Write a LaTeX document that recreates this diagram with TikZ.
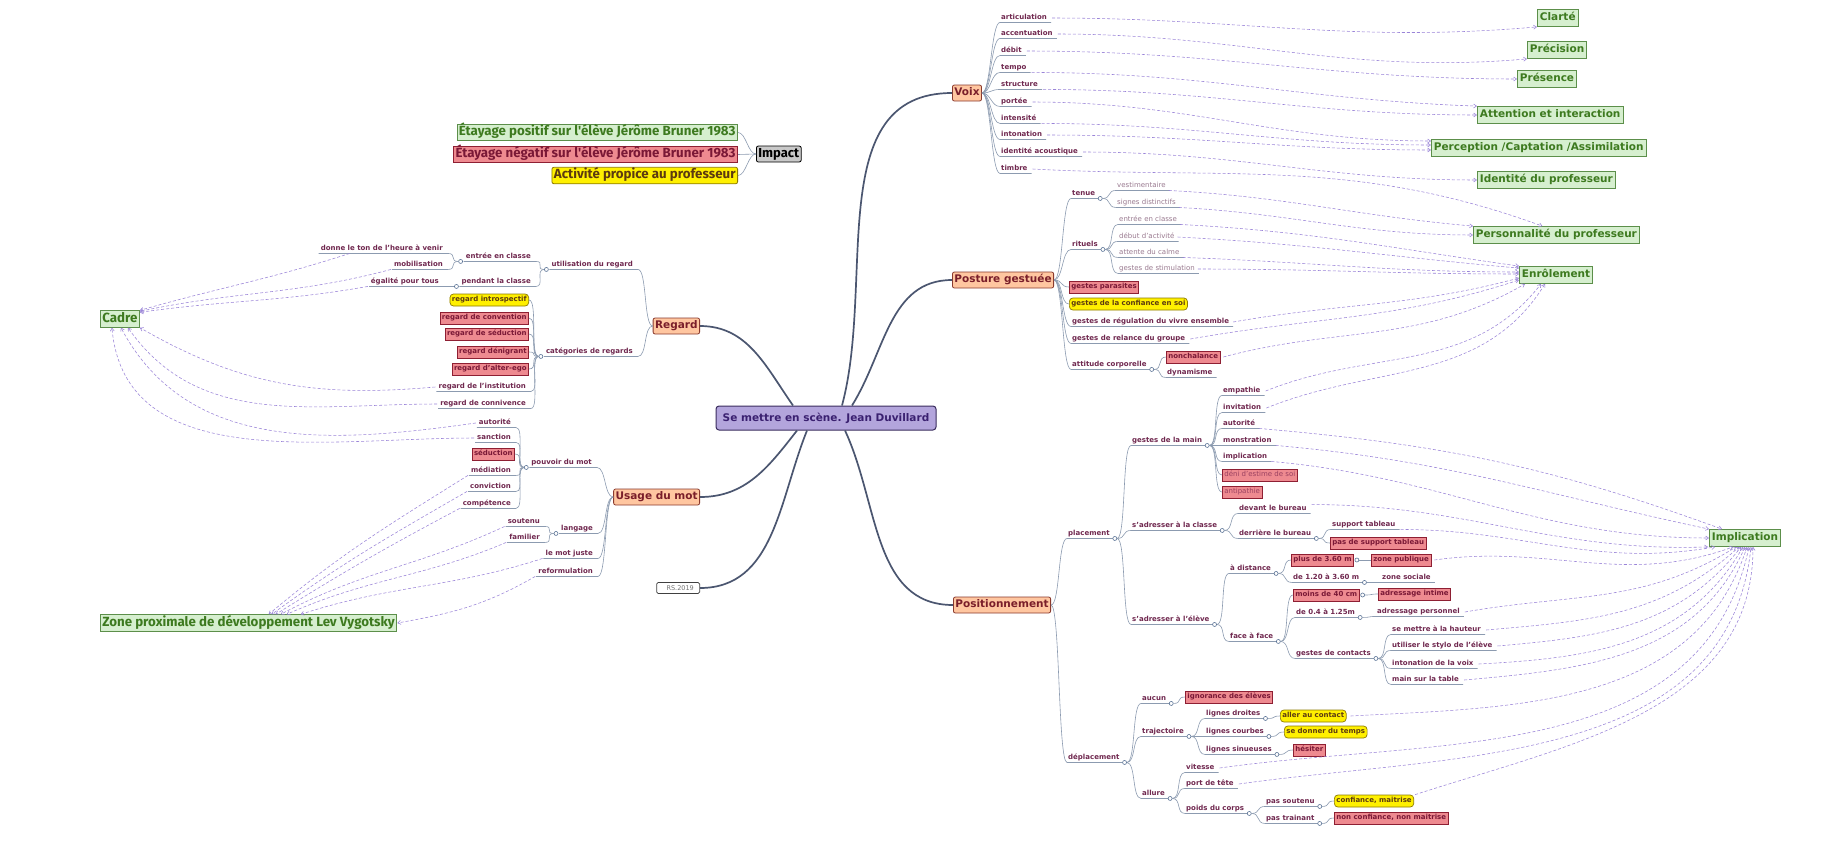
\documentclass[tikz,border=0pt]{standalone}
\usepackage{fontspec}
\setmainfont{DejaVu Sans}
\newfontfamily\ptfont{Fira Sans}
\usetikzlibrary{arrows.meta}
\definecolor{txt}{HTML}{70284F}
\definecolor{txtl}{HTML}{9A7A90}
\definecolor{treec}{HTML}{8C9BB0}
\definecolor{juncc}{HTML}{5A7396}
\definecolor{trunkc}{HTML}{4B5670}
\definecolor{arrc}{HTML}{9A84D8}
\definecolor{grnf}{HTML}{D6EFCF}
\definecolor{grnd}{HTML}{5C8F4A}
\definecolor{grnt}{HTML}{3D7A1F}
\definecolor{redf}{HTML}{EE8A90}
\definecolor{redd}{HTML}{8E1F33}
\definecolor{redt}{HTML}{7A1836}
\definecolor{redtl}{HTML}{9A4060}
\definecolor{yelf}{HTML}{FFF000}
\definecolor{yeld}{HTML}{8C7A00}
\definecolor{yelt}{HTML}{5C3A10}
\definecolor{mainf}{HTML}{FFC6A0}
\definecolor{maind}{HTML}{8A3A2E}
\definecolor{maint}{HTML}{7A1E2A}
\definecolor{cenf}{HTML}{B3A5DC}
\definecolor{cend}{HTML}{3B2D5E}
\definecolor{cent}{HTML}{3A2070}
\definecolor{impf}{HTML}{C9C9C9}
\tikzset{
  lb/.style={anchor=west, inner xsep=1pt, inner ysep=0.8pt, text height=5.3pt, text depth=1.6pt, font=\fontsize{7}{8}\selectfont\bfseries, text=txt},
  lt/.style={lb, font=\fontsize{7}{8}\selectfont, text=txtl},
  lbL/.style={lb, anchor=east},
  redb/.style={anchor=west, draw=redd, fill=redf, line width=0.7pt, inner xsep=2pt, inner ysep=0pt, minimum height=12pt, text height=5.3pt, text depth=1.6pt, font=\fontsize{7}{8}\selectfont\bfseries, text=redt},
  redl/.style={redb, font=\fontsize{7}{8}\selectfont, text=redtl},
  yelb/.style={redb, draw=yeld, fill=yelf, text=yelt, rounded corners=3.5pt},
  redbL/.style={redb, anchor=east},
  yelbL/.style={yelb, anchor=east},
  mainb/.style={draw=maind, fill=mainf, line width=0.8pt, rounded corners=2pt, inner xsep=2pt, inner ysep=0pt, minimum height=16pt, text height=7.6pt, text depth=2.2pt, font=\fontsize{10.5}{12}\selectfont\bfseries, text=maint},
  grn/.style={anchor=west, draw=grnd, fill=grnf, line width=0.8pt, inner xsep=2.5pt, inner ysep=0pt, minimum height=17pt, text height=7.6pt, text depth=2.2pt, font=\fontsize{10.5}{12}\selectfont\bfseries, text=grnt},
  grnP/.style={grn, font=\ptfont\fontsize{13.3}{15}\selectfont\bfseries, text height=9pt, text depth=2.6pt, minimum height=16.5pt, inner xsep=2pt},
  redP/.style={grnP, draw=redd, fill=redf, text=redt},
  yelP/.style={grnP, draw=yeld, fill=yelf, text=yelt, rounded corners=2pt},
  impb/.style={anchor=west, draw=black, fill=impf, line width=0.8pt, rounded corners=2pt, inner xsep=2pt, inner ysep=0pt, minimum height=16pt, text height=9pt, text depth=2.6pt, font=\ptfont\fontsize{13}{15}\selectfont\bfseries, text=black},
  rsb/.style={draw=black!75, fill=white, rounded corners=1.5pt, line width=0.7pt, inner sep=0pt, minimum width=43pt, minimum height=11pt, font=\fontsize{6.5}{7}\selectfont, text=black!55},
  cnode/.style={draw=cend, fill=cenf, rounded corners=3pt, line width=1pt, minimum width=220pt, minimum height=24pt, inner sep=0pt, font=\fontsize{10.5}{12}\selectfont\bfseries, text=cent},
  tree/.style={draw=treec, line width=0.6pt},
  trunk/.style={draw=trunkc, line width=1.7pt},
  arr/.style={draw=arrc, densely dashed, line width=0.55pt, -{Straight Barb[length=3pt,width=4pt]}},
  junc/.style={circle, draw=juncc, fill=white, inner sep=0pt, minimum size=4pt, line width=0.6pt},
}
\newcommand{\kidR}[5]{\node[#3] (#1) at (#4) {#5};
  \draw[tree] (#2) to[out=0,in=180,distance=9pt] (#1.south west) -- ([xshift=3pt]#1.south east);}
\newcommand{\boxR}[5]{\node[#3] (#1) at (#4) {#5};
  \draw[tree] (#2) to[out=0,in=180,distance=9pt] (#1.west);}
\newcommand{\kidL}[5]{\node[#3] (#1) at (#4) {#5};
  \draw[tree] (#2) to[out=180,in=0,distance=9pt] ([xshift=4pt]#1.south east) -- ([xshift=-1pt]#1.south west);}
\newcommand{\boxL}[5]{\node[#3] (#1) at (#4) {#5};
  \draw[tree] (#2) to[out=180,in=0,distance=9pt] (#1.east);}
\begin{document}
\begin{tikzpicture}[x=1pt,y=-1pt]
\useasboundingbox (0,0) rectangle (1822,841);
\fill[white] (0,0) rectangle (1822,841);

% centre and main branches
\node[cnode] (c) at (826,418) {Se mettre en scène. Jean Duvillard};
\node[mainb, anchor=west] (voix) at (952,93) {Voix};
\node[mainb, anchor=west] (posture) at (952,280) {Posture gestuée};
\node[mainb, anchor=west] (posit) at (953,605) {Positionnement};
\node[mainb, anchor=east] (regard) at (700,326) {Regard};
\node[mainb, anchor=east] (usage) at (700,497) {Usage du mot};
\node[rsb, anchor=east] (rs) at (700,588) {\ \ RS.2019};
\draw[trunk] ([xshift=16pt]c.north) to[out=75,in=180] (voix.west);
\draw[trunk] ([xshift=26pt]c.north) to[out=58,in=180] (posture.west);
\draw[trunk] ([xshift=19pt]c.south) to[out=-65,in=180] (posit.west);
\draw[trunk] ([xshift=-33pt]c.north) to[out=125,in=0] (regard.east);
\draw[trunk] ([xshift=-29pt]c.south) to[out=-128,in=0] (usage.east);
\draw[trunk] ([xshift=-19pt]c.south) to[out=-112,in=0] (rs.east);

% green targets
\node[grn] (clarte) at (1537,18) {Clarté};
\node[grn] (precision) at (1527,50) {Précision};
\node[grn] (presence) at (1517,79) {Présence};
\node[grn] (attention) at (1477,115) {Attention et interaction};
\node[grn] (perception) at (1431,148) {Perception /Captation /Assimilation};
\node[grn] (idprof) at (1477,180) {Identité du professeur};
\node[grn] (perso) at (1473,235) {Personnalité du professeur};
\node[grn] (enrol) at (1519,275) {Enrôlement};
\node[grn] (implic) at (1709,538) {Implication};
\node[grnP] (cadre) at (100,319) {Cadre};
\node[grnP] (zone) at (100,623) {Zone proximale de développement Lev Vygotsky};

% Impact
\node[impb] (impact) at (756,154) {Impact};
\node[grnP, anchor=east] (etpos) at (738,132.5) {Étayage positif sur l'élève Jérôme Bruner 1983};
\node[redP, anchor=east] (etneg) at (738,154.5) {Étayage négatif sur l'élève Jérôme Bruner 1983};
\node[yelP, anchor=east] (activ) at (738,175.5) {Activité propice au professeur};
\draw[tree] (etpos.east) to[out=0,in=180,distance=8pt] (impact.west);
\draw[tree] (etneg.east) -- (impact.west);
\draw[tree] (activ.east) to[out=0,in=180,distance=8pt] (impact.west);

% Voix
\kidR{articulation}{voix.east}{lb}{1000,18}{articulation}
\kidR{accentuation}{voix.east}{lb}{1000,34}{accentuation}
\kidR{debit}{voix.east}{lb}{1000,51}{débit}
\kidR{tempo}{voix.east}{lb}{1000,68}{tempo}
\kidR{structure}{voix.east}{lb}{1000,85}{structure}
\kidR{portee}{voix.east}{lb}{1000,102}{portée}
\kidR{intensite}{voix.east}{lb}{1000,119}{intensité}
\kidR{intonation}{voix.east}{lb}{1000,135}{intonation}
\kidR{idacou}{voix.east}{lb}{1000,152}{identité acoustique}
\kidR{timbre}{voix.east}{lb}{1000,169}{timbre}

% Posture gestuée
\kidR{tenue}{posture.east}{lb}{1071,194}{tenue}
\node[junc] (jtenue) at ([xshift=4pt]tenue.south east) {};
\kidR{vest}{jtenue.east}{lt}{1116,186}{vestimentaire}
\kidR{signes}{jtenue.east}{lt}{1116,203}{signes distinctifs}
\kidR{rituels}{posture.east}{lb}{1071,245}{rituels}
\node[junc] (jrit) at ([xshift=4pt]rituels.south east) {};
\kidR{entree}{jrit.east}{lt}{1118,220}{entrée en classe}
\kidR{debut}{jrit.east}{lt}{1118,237}{début d'activité}
\kidR{attente}{jrit.east}{lt}{1118,253}{attente du calme}
\kidR{stim}{jrit.east}{lt}{1118,269}{gestes de stimulation}
\boxR{parasites}{posture.east}{redb}{1069,287}{gestes parasites}
\boxR{confiance}{posture.east}{yelb}{1069,304}{gestes de la confiance en soi}
\kidR{regul}{posture.east}{lb}{1071,322}{gestes de régulation du vivre ensemble}
\kidR{relance}{posture.east}{lb}{1071,339}{gestes de relance du groupe}
\kidR{attitude}{posture.east}{lb}{1071,365}{attitude corporelle}
\node[junc] (jatt) at ([xshift=4pt]attitude.south east) {};
\boxR{nonch}{jatt.east}{redb}{1166,357}{nonchalance}
\kidR{dyna}{jatt.east}{lb}{1166,373}{dynamisme}

% Positionnement
\kidR{placement}{posit.east}{lb}{1067,534}{placement}
\node[junc] (jplac) at ([xshift=4pt]placement.south east) {};
\kidR{gmain}{jplac.east}{lb}{1131,441}{gestes de la main}
\node[junc] (jgmain) at ([xshift=4pt]gmain.south east) {};
\kidR{empathie}{jgmain.east}{lb}{1222,391}{empathie}
\kidR{invitation}{jgmain.east}{lb}{1222,408}{invitation}
\kidR{autorite}{jgmain.east}{lb}{1222,424}{autorité}
\kidR{monstration}{jgmain.east}{lb}{1222,441}{monstration}
\kidR{implication}{jgmain.east}{lb}{1222,457}{implication}
\boxR{deni}{jgmain.east}{redl}{1222,475}{déni d'estime de soi}
\boxR{antip}{jgmain.east}{redl}{1222,492}{antipathie}
\kidR{sclasse}{jplac.east}{lb}{1131,526}{s'adresser à la classe}
\node[junc] (jscl) at ([xshift=4pt]sclasse.south east) {};
\kidR{devant}{jscl.east}{lb}{1238,509}{devant le bureau}
\kidR{derriere}{jscl.east}{lb}{1238,534}{derrière le bureau}
\node[junc] (jder) at ([xshift=4pt]derriere.south east) {};
\kidR{support}{jder.east}{lb}{1331,525}{support tableau}
\boxR{pasupport}{jder.east}{redb}{1330,543}{pas de support tableau}
\kidR{seleve}{jplac.east}{lb}{1131,620}{s'adresser à l'élève}
\node[junc] (jsel) at ([xshift=4pt]seleve.south east) {};
\kidR{adist}{jsel.east}{lb}{1229,569}{à distance}
\node[junc] (jadist) at ([xshift=4pt]adist.south east) {};
\boxR{plus}{jadist.east}{redb}{1291,560}{plus de 3.60 m}
\node[junc] (jplus) at ([xshift=3pt]plus.east) {};
\boxR{zpub}{jplus.east}{redb}{1371,560}{zone publique}
\kidR{deun}{jadist.east}{lb}{1292,578}{de 1.20 à 3.60 m}
\node[junc] (jdeun) at ([xshift=4pt]deun.south east) {};
\kidR{zsoc}{jdeun.east}{lb}{1381,578}{zone sociale}
\kidR{face}{jsel.east}{lb}{1229,637}{face à face}
\node[junc] (jface) at ([xshift=4pt]face.south east) {};
\boxR{moins}{jface.east}{redb}{1293,595}{moins de 40 cm}
\node[junc] (jmoins) at ([xshift=3pt]moins.east) {};
\boxR{intime}{jmoins.east}{redb}{1378,594}{adressage intime}
\kidR{dezero}{jface.east}{lb}{1295,613}{de 0.4 à 1.25m}
\node[junc] (jdezero) at ([xshift=4pt]dezero.south east) {};
\kidR{adperso}{jdezero.east}{lb}{1376,612}{adressage personnel}
\kidR{gcont}{jface.east}{lb}{1295,654}{gestes de contacts}
\node[junc] (jgc) at ([xshift=4pt]gcont.south east) {};
\kidR{hauteur}{jgc.east}{lb}{1391,630}{se mettre à la hauteur}
\kidR{stylo}{jgc.east}{lb}{1391,646}{utiliser le stylo de l'élève}
\kidR{intvoix}{jgc.east}{lb}{1391,664}{intonation de la voix}
\kidR{table}{jgc.east}{lb}{1391,680}{main sur la table}
\kidR{deplac}{posit.east}{lb}{1067,758}{déplacement}
\node[junc] (jdep) at ([xshift=4pt]deplac.south east) {};
\kidR{aucun}{jdep.east}{lb}{1141,699}{aucun}
\node[junc] (jauc) at ([xshift=4pt]aucun.south east) {};
\boxR{ignor}{jauc.east}{redb}{1185,697}{ignorance des élèves}
\kidR{traj}{jdep.east}{lb}{1141,732}{trajectoire}
\node[junc] (jtraj) at ([xshift=4pt]traj.south east) {};
\kidR{ldroites}{jtraj.east}{lb}{1205,714}{lignes droites}
\node[junc] (jld) at ([xshift=4pt]ldroites.south east) {};
\boxR{contact}{jld.east}{yelb}{1280,716}{aller au contact}
\kidR{lcourbes}{jtraj.east}{lb}{1205,732}{lignes courbes}
\node[junc] (jlc) at ([xshift=4pt]lcourbes.south east) {};
\boxR{temps}{jlc.east}{yelb}{1284,732}{se donner du temps}
\kidR{lsin}{jtraj.east}{lb}{1205,750}{lignes sinueuses}
\node[junc] (jls) at ([xshift=4pt]lsin.south east) {};
\boxR{hesiter}{jls.east}{redb}{1293,750}{hésiter}
\kidR{allure}{jdep.east}{lb}{1141,794}{allure}
\node[junc] (jall) at ([xshift=4pt]allure.south east) {};
\kidR{vitesse}{jall.east}{lb}{1185,768}{vitesse}
\kidR{port}{jall.east}{lb}{1185,784}{port de tête}
\kidR{poids}{jall.east}{lb}{1185,809}{poids du corps}
\node[junc] (jpoids) at ([xshift=4pt]poids.south east) {};
\kidR{psout}{jpoids.east}{lb}{1265,802}{pas soutenu}
\node[junc] (jps) at ([xshift=4pt]psout.south east) {};
\boxR{confm}{jps.east}{yelb}{1334,801}{confiance, maitrise}
\kidR{ptrain}{jpoids.east}{lb}{1265,819}{pas trainant}
\node[junc] (jpt) at ([xshift=4pt]ptrain.south east) {};
\boxR{nonconf}{jpt.east}{redb}{1334,818}{non confiance, non maitrise}

% Regard
\kidL{utilis}{regard.west}{lbL}{634,265}{utilisation du regard}
\node[junc] (jutil) at ([xshift=-4pt]utilis.south west) {};
\kidL{entreeL}{jutil.west}{lbL}{532,257}{entrée en classe}
\node[junc] (jentL) at ([xshift=-4pt]entreeL.south west) {};
\kidL{donne}{jentL.west}{lbL}{444,249}{donne le ton de l'heure à venir}
\kidL{mobil}{jentL.west}{lbL}{444,265}{mobilisation}
\kidL{pendant}{jutil.west}{lbL}{532,282}{pendant la classe}
\node[junc] (jpend) at ([xshift=-4pt]pendant.south west) {};
\kidL{egalite}{jpend.west}{lbL}{440,282}{égalité pour tous}
\kidL{categ}{regard.west}{lbL}{634,352}{catégories de regards}
\node[junc] (jcat) at ([xshift=-4pt]categ.south west) {};
\boxL{introsp}{jcat.west}{yelbL}{529,300}{regard introspectif}
\boxL{conv}{jcat.west}{redbL}{529,318}{regard de convention}
\boxL{seduc}{jcat.west}{redbL}{529,334}{regard de séduction}
\boxL{denig}{jcat.west}{redbL}{529,352}{regard dénigrant}
\boxL{alter}{jcat.west}{redbL}{529,369}{regard d'alter-ego}
\kidL{instit}{jcat.west}{lbL}{527,387}{regard de l'institution}
\kidL{conniv}{jcat.west}{lbL}{527,404}{regard de connivence}

% Usage du mot
\kidL{pouvoir}{usage.west}{lbL}{593,463}{pouvoir du mot}
\node[junc] (jpouv) at ([xshift=-4pt]pouvoir.south west) {};
\kidL{autoriteL}{jpouv.west}{lbL}{512,423}{autorité}
\kidL{sanction}{jpouv.west}{lbL}{512,438}{sanction}
\boxL{seducL}{jpouv.west}{redbL}{515,454}{séduction}
\kidL{mediation}{jpouv.west}{lbL}{512,471}{médiation}
\kidL{conviction}{jpouv.west}{lbL}{512,487}{conviction}
\kidL{competence}{jpouv.west}{lbL}{512,504}{compétence}
\kidL{langage}{usage.west}{lbL}{594,529}{langage}
\node[junc] (jlang) at ([xshift=-4pt]langage.south west) {};
\kidL{soutenu}{jlang.west}{lbL}{541,522}{soutenu}
\kidL{familier}{jlang.west}{lbL}{541,538}{familier}
\kidL{motjuste}{usage.west}{lbL}{594,554}{le mot juste}
\kidL{reform}{usage.west}{lbL}{594,572}{reformulation}

% ---- dashed relations ----
\draw[arr] ([xshift=4pt]articulation.east) to[out=0,in=185] (clarte.south west);
\draw[arr] ([xshift=4pt]accentuation.east) to[out=0,in=185] (precision.south west);
\draw[arr] ([xshift=4pt]debit.east) to[out=0,in=180] (presence.west);
\draw[arr] ([xshift=4pt]tempo.south east) to[out=0,in=178] (attention.north west);
\draw[arr] ([xshift=4pt]structure.south east) to[out=0,in=180] (attention.west);
\draw[arr] ([xshift=4pt]portee.east) to[out=0,in=180] ([yshift=7pt]perception.west);
\draw[arr] ([xshift=4pt]intensite.south east) to[out=0,in=180] ([yshift=3pt]perception.west);
\draw[arr] ([xshift=4pt]intonation.east) to[out=0,in=180] ([yshift=-2pt]perception.west);
\draw[arr] ([xshift=4pt]idacou.east) to[out=0,in=180] (idprof.west);
\draw[arr] ([xshift=4pt]timbre.east) to[out=-3,in=160] ([xshift=-14pt]perso.north);
\draw[arr] ([xshift=2pt]vest.south east) to[out=-3,in=175] (perso.north west);
\draw[arr] ([xshift=2pt]signes.south east) to[out=-3,in=180] (perso.west);

\draw[arr] ([xshift=2pt]entree.south east) to[out=-3,in=172] (enrol.north west);
\draw[arr] ([xshift=2pt]debut.east) to[out=-3,in=175] ([yshift=-2pt]enrol.north west);
\draw[arr] ([xshift=2pt]attente.south east) to[out=-2,in=180] ([yshift=3pt]enrol.west);
\draw[arr] ([xshift=2pt]stim.east) to[out=0,in=180] ([yshift=1pt]enrol.west);
\draw[arr] ([xshift=3pt]regul.east) to[out=10,in=195] ([yshift=-3pt]enrol.west);
\draw[arr] ([xshift=4pt]relance.east) to[out=10,in=198] ([yshift=-5pt]enrol.west);
\draw[arr] ([xshift=3pt]nonch.east) to[out=15,in=210] ([xshift=6pt]enrol.south west);
\draw[arr] ([xshift=4pt]empathie.east) to[out=22,in=232] ([xshift=22pt]enrol.south west);
\draw[arr] ([xshift=4pt]invitation.east) to[out=22,in=238] ([xshift=26pt]enrol.south west);

\draw[arr] ([xshift=3pt]autorite.south east) to[out=-5,in=160] ([xshift=13pt]implic.north west);
\draw[arr] ([xshift=3pt]monstration.south east) to[out=-5,in=168] (implic.north west);
\draw[arr] ([xshift=3pt]implication.south east) to[out=-5,in=180] (implic.west);
\draw[arr] ([xshift=4pt]devant.north east) to[out=0,in=182] ([xshift=-1pt]implic.south west);
\draw[arr] ([xshift=4pt]support.south east) to[out=0,in=190] ([xshift=6pt]implic.south west);
\draw[arr] ([xshift=3pt]zpub.east) to[out=8,in=200] ([xshift=24pt]implic.south west);
\draw[arr] ([xshift=4pt]adperso.east) to[out=10,in=212] ([xshift=27pt]implic.south west);
\draw[arr] ([xshift=4pt]hauteur.east) to[out=5,in=222] ([xshift=30pt]implic.south west);
\draw[arr] ([xshift=4pt]stylo.east) to[out=5,in=232] ([xshift=32pt]implic.south west);
\draw[arr] ([xshift=4pt]intvoix.east) to[out=3,in=240] ([xshift=34pt]implic.south west);
\draw[arr] ([xshift=4pt]table.east) to[out=5,in=246] ([xshift=36pt]implic.south west);
\draw[arr] ([xshift=4pt]contact.east) to[out=3,in=252] ([xshift=38pt]implic.south west);
\draw[arr] ([xshift=4pt]vitesse.east) to[out=8,in=258] ([xshift=40pt]implic.south west);
\draw[arr] ([xshift=4pt]port.east) to[out=8,in=264] ([xshift=42pt]implic.south west);
\draw[arr] ([xshift=1pt]confm.north east) to[out=18,in=270] ([xshift=44pt]implic.south west);

\draw[arr] ([xshift=30pt]donne.south west) to[out=198,in=16] (cadre.north east);
\draw[arr] ([xshift=-2pt]mobil.south west) to[out=195,in=12] ([yshift=-1pt]cadre.north east);
\draw[arr] ([xshift=-2pt]egalite.south west) to[out=190,in=8] ([yshift=-2pt]cadre.north east);
\draw[arr] ([xshift=-2pt]instit.west) to[out=185,in=-30] (cadre.south east);
\draw[arr] ([xshift=-2pt]conniv.west) to[out=180,in=-55] ([xshift=8pt]cadre.south);
\draw[arr] ([xshift=-2pt]autoriteL.west) to[out=188,in=-62] ([xshift=1pt]cadre.south);
\draw[arr] ([xshift=-2pt]sanction.west) to[out=180,in=-85] ([xshift=-8pt]cadre.south);

\draw[arr] ([xshift=-2pt]mediation.south west) to[out=212,in=40] ([xshift=20pt]zone.north);
\draw[arr] ([xshift=-2pt]conviction.south west) to[out=210,in=36] ([xshift=23pt]zone.north);
\draw[arr] ([xshift=-2pt]competence.south west) to[out=208,in=32] ([xshift=27pt]zone.north);
\draw[arr] ([xshift=-2pt]soutenu.south west) to[out=205,in=28] ([xshift=32pt]zone.north);
\draw[arr] ([xshift=-2pt]familier.south west) to[out=203,in=24] ([xshift=38pt]zone.north);
\draw[arr] ([xshift=-2pt]motjuste.south west) to[out=198,in=18] ([xshift=52pt]zone.north);
\draw[arr] ([xshift=-2pt]reform.south west) to[out=210,in=10] (zone.east);
\end{tikzpicture}
\end{document}
